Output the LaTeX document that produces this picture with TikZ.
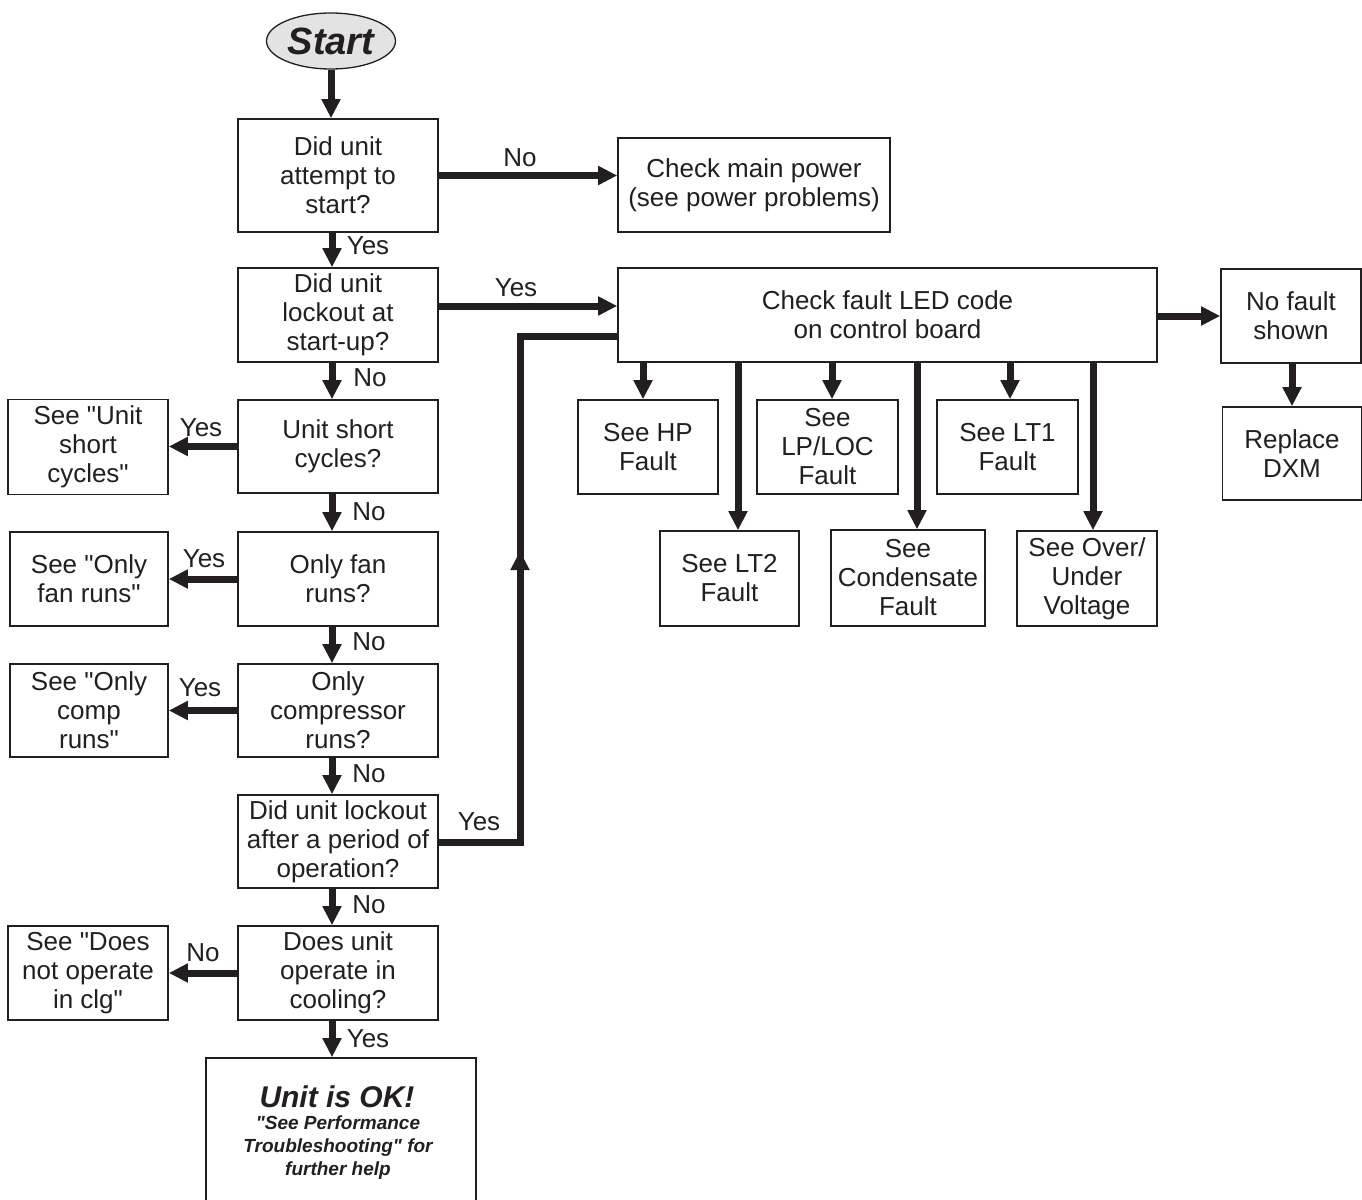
\documentclass[tikz,border=0pt]{standalone}
\usepackage{fontspec}
\defaultfontfeatures{Ligatures=TeXOff}
\setmainfont{Liberation Sans}[Ligatures=TeXOff]
\usetikzlibrary{arrows.meta,shapes.geometric}
\definecolor{ink}{HTML}{231F20}
\definecolor{startfill}{HTML}{E3E3E3}
\newcommand{\fsz}{\fontsize{26}{29}\selectfont}
\begin{document}
\begin{tikzpicture}[x=1pt,y=-1pt,
  box/.style={draw=ink, line width=1.6pt, inner sep=0pt, align=center, font=\fsz, text=ink},
  sz/.style 2 args={minimum width=#1, minimum height=#2},
  arr/.style={draw=ink, line width=7pt, -{Triangle[length=19pt,width=18pt]}},
  thk/.style={draw=ink, line width=7pt, line join=miter},
  lbl/.style={inner sep=0pt, font=\fsz, text=ink}]
\useasboundingbox (0,0) rectangle (1362,1199);
\fill[white] (0,0) rectangle (1362,1199);

% start
\node[ellipse, draw=ink, line width=1.3pt, fill=startfill, minimum width=129pt, minimum height=56pt, inner sep=0pt,
  font=\fontsize{38}{40}\selectfont\bfseries\itshape, text=ink] (start) at (331,41) {Start};

% main column
\node[box, sz={200pt}{113pt}] (q1) at (338,175.5) {Did unit\\attempt to\\start?};
\node[box, sz={200pt}{94pt}] (q2) at (338,315) {Did unit\\lockout at\\start-up?};
\node[box, sz={200pt}{93pt}] (q3) at (338,446.5) {Unit short\\cycles?};
\node[box, sz={200pt}{94pt}] (q4) at (338,579) {Only fan\\runs?};
\node[box, sz={200pt}{93pt}] (q5) at (338,710.5) {Only\\compressor\\runs?};
\node[box, sz={200pt}{93pt}] (q6) at (338,841.5) {Did unit lockout\\after a period of\\operation?};
\node[box, sz={200pt}{94pt}] (q7) at (338,973) {Does unit\\operate in\\cooling?};
\node[box, sz={270pt}{170pt}] (ok) at (341,1143) {};
\node[inner sep=0pt, text=ink, font=\fontsize{30}{32}\selectfont\bfseries\itshape] (oktitle) at (337,1097) {Unit is OK!};
\node[inner sep=0pt, text=ink, align=center, font=\fontsize{19}{23}\selectfont\bfseries\itshape] (oktext) at (338,1148)
  {"See Performance\\Troubleshooting" for\\further help};

% left column
\node[box, sz={160pt}{95pt}] (s1) at (88,447) {See "Unit\\short\\cycles"};
\node[box, sz={158pt}{94pt}] (s2) at (89,579) {See "Only\\fan runs"};
\node[box, sz={158pt}{93pt}] (s3) at (89,710.5) {See "Only\\comp\\runs"};
\node[box, sz={160pt}{94pt}] (s4) at (88,973) {See "Does\\not operate\\in clg"};

% right part
\node[box, sz={272pt}{94pt}] (power) at (754,185) {Check main power\\(see power problems)};
\node[box, sz={539pt}{94pt}] (fault) at (887.5,315) {Check fault LED code\\on control board};
\node[box, sz={140pt}{94pt}] (nofault) at (1291,316) {No fault\\shown};
\node[box, sz={139pt}{93pt}] (replace) at (1292,453.5) {Replace\\DXM};

\node[box, sz={140pt}{94pt}] (hp) at (648,447) {See HP\\Fault};
\node[box, sz={141pt}{94pt}] (lp) at (827.5,447) {See\\LP/LOC\\Fault};
\node[box, sz={141pt}{94pt}] (lt1) at (1007.5,447) {See LT1\\Fault};
\node[box, sz={139pt}{95pt}] (lt2) at (729.5,578.5) {See LT2\\Fault};
\node[box, sz={154pt}{96pt}] (cond) at (908,578) {See\\Condensate\\Fault};
\node[box, sz={140pt}{95pt}] (ov) at (1087,578.5) {See Over/\\Under\\Voltage};

% helper coordinates
\coordinate (col) at (332,0);
\coordinate (r2) at (0,306);
\coordinate (yb) at (520,842);
\coordinate (yt) at (520,336);
\coordinate (ytail) at (520,600);
\coordinate (ytip) at (520,551);
\coordinate (a1) at (643,0);
\coordinate (a2) at (738,0);
\coordinate (a3) at (832,0);
\coordinate (a4) at (917,0);
\coordinate (a5) at (1010,0);
\coordinate (a6) at (1093,0);

% arrows main column
\draw[arr] (start.south) -- (start.south |- q1.north);
\draw[arr] (q1.south -| col) -- (q2.north -| col);
\draw[arr] (q2.south -| col) -- (q3.north -| col);
\draw[arr] (q3.south -| col) -- (q4.north -| col);
\draw[arr] (q4.south -| col) -- (q5.north -| col);
\draw[arr] (q5.south -| col) -- (q6.north -| col);
\draw[arr] (q6.south -| col) -- (q7.north -| col);
\draw[arr] (q7.south -| col) -- (ok.north -| col);

% arrows to the left
\draw[arr] (q3.west) -- (q3.west -| s1.east);
\draw[arr] (q4.west) -- (q4.west -| s2.east);
\draw[arr] (q5.west) -- (q5.west -| s3.east);
\draw[arr] (q7.west) -- (q7.west -| s4.east);

% arrows to the right
\draw[arr] (q1.east) -- (q1.east -| power.west);
\draw[arr] (q2.east |- r2) -- (fault.west |- r2);
\draw[arr] (nofault.west -| fault.east) -- (nofault.west);
\draw[arr] (replace.north |- nofault.south) -- (replace.north);

% lockout after period path
\draw[thk] (q6.east |- yb) -- (yb) -- (yt) -- (yt -| fault.west);
\draw[arr] (ytail) -- (ytip);

% fault arrows
\draw[arr] (fault.south -| a1) -- (hp.north -| a1);
\draw[arr] (fault.south -| a2) -- (lt2.north -| a2);
\draw[arr] (fault.south -| a3) -- (lp.north -| a3);
\draw[arr] (fault.south -| a4) -- (cond.north -| a4);
\draw[arr] (fault.south -| a5) -- (lt1.north -| a5);
\draw[arr] (fault.south -| a6) -- (ov.north -| a6);

% labels
\node[lbl] (l1) at (520,158) {No};
\node[lbl] (l2) at (368,246) {Yes};
\node[lbl] (l3) at (516,288) {Yes};
\node[lbl] (l4) at (370,378) {No};
\node[lbl] (l5) at (201,428) {Yes};
\node[lbl] (l6) at (369,512) {No};
\node[lbl] (l7) at (204,559) {Yes};
\node[lbl] (l8) at (369,642) {No};
\node[lbl] (l9) at (200,688) {Yes};
\node[lbl] (l10) at (369,774) {No};
\node[lbl] (l11) at (479,822) {Yes};
\node[lbl] (l12) at (369,905) {No};
\node[lbl] (l13) at (203,953) {No};
\node[lbl] (l14) at (368,1039) {Yes};
\end{tikzpicture}
\end{document}
